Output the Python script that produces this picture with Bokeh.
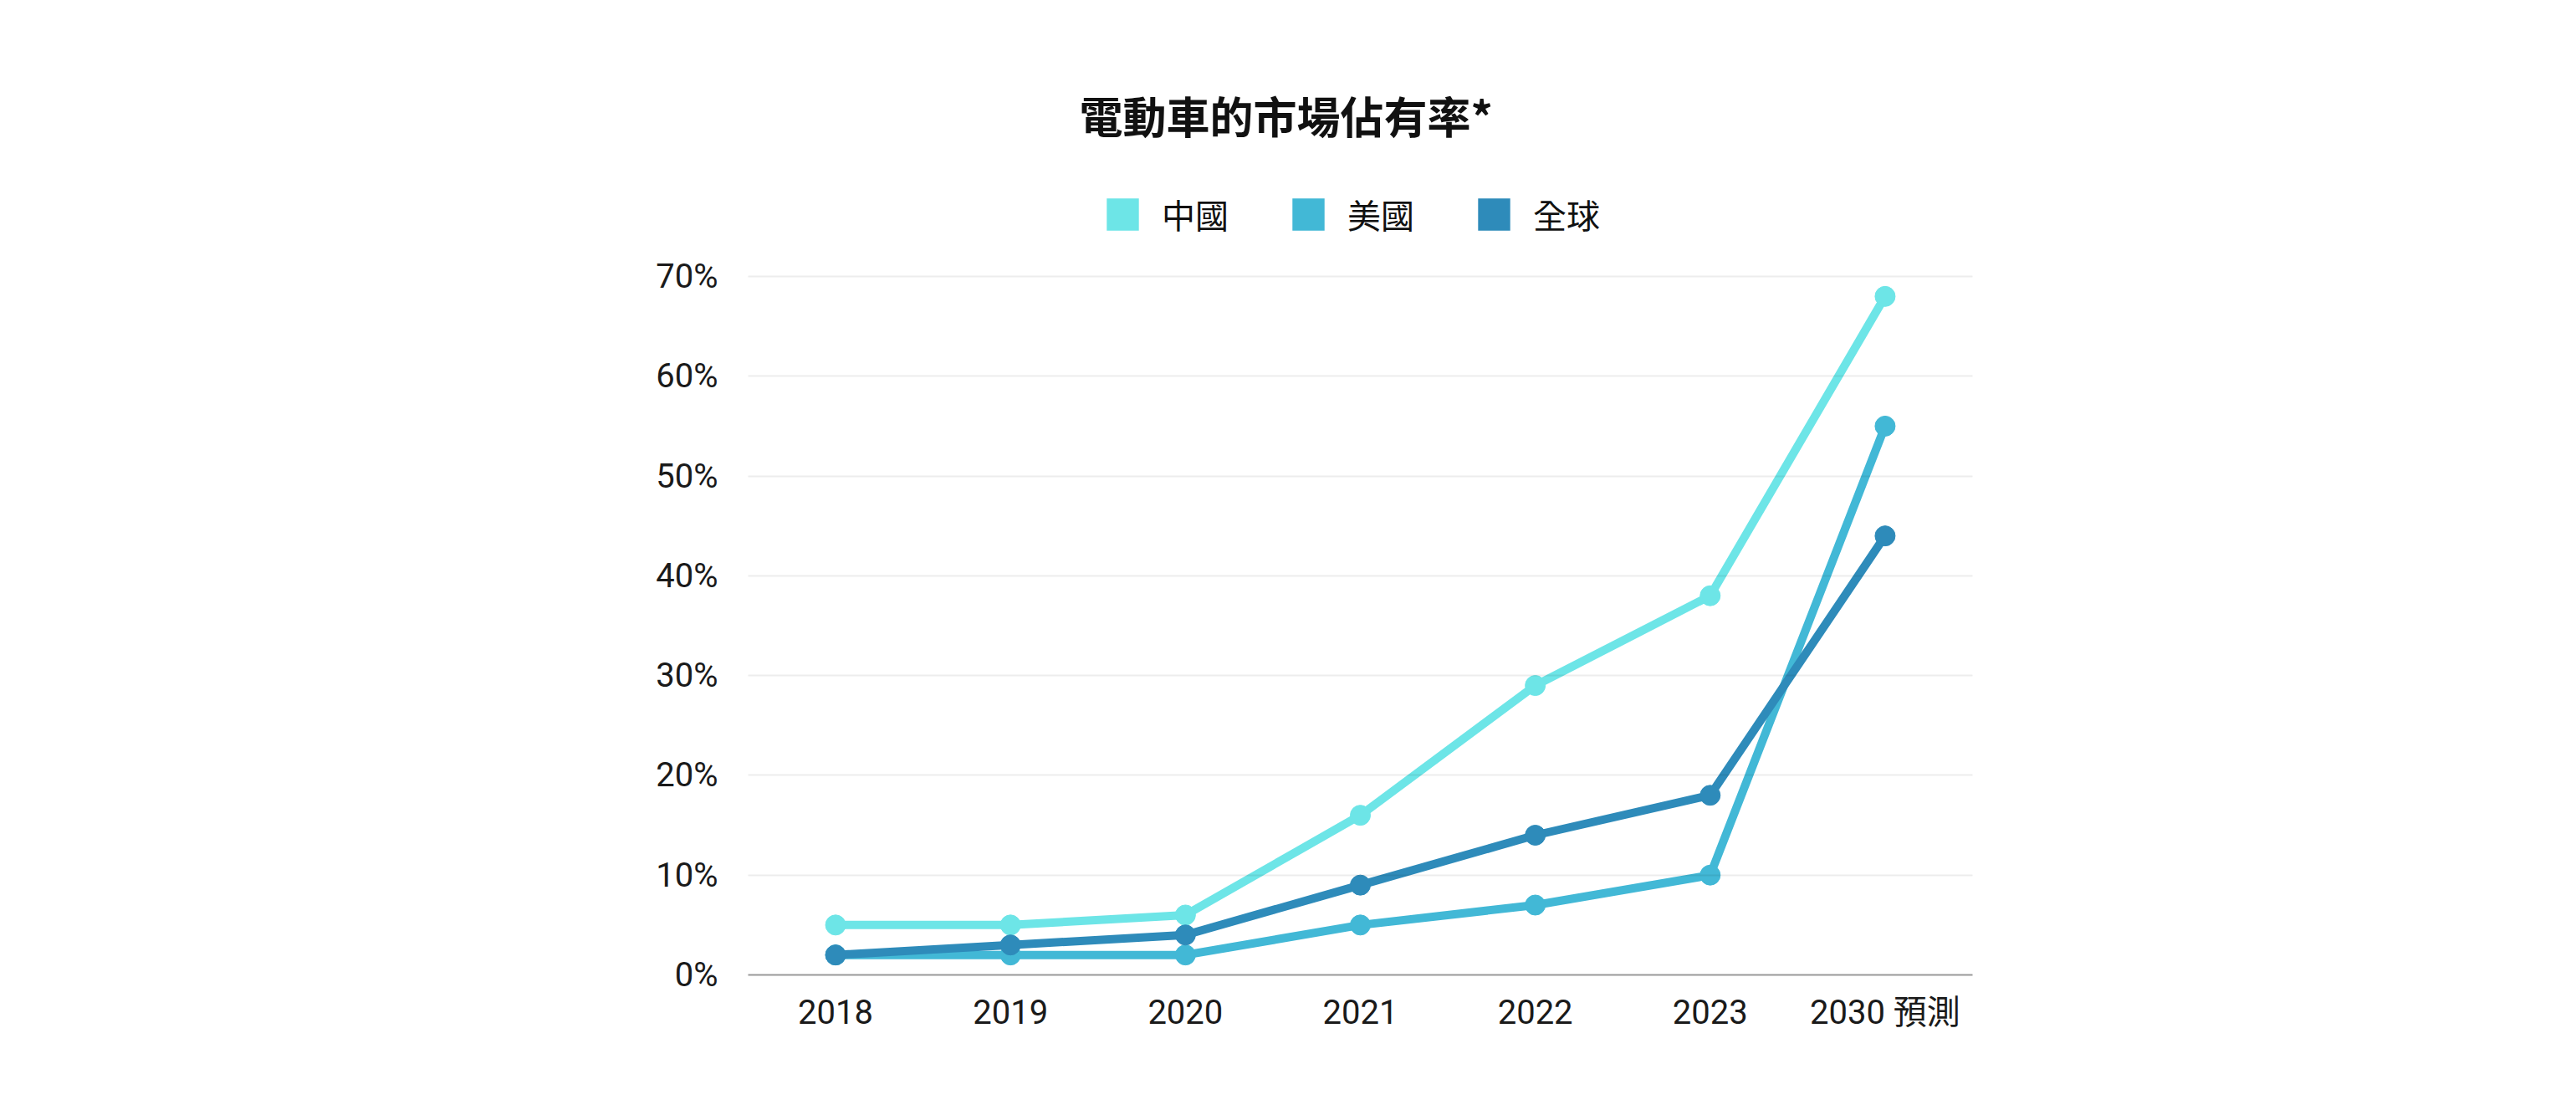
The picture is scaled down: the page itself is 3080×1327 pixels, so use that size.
from bokeh.plotting import figure
from bokeh.models import (FactorRange, Range1d, FixedTicker, PrintfTickFormatter,
                          Legend, LegendItem, ColumnDataSource)
from bokeh.embed import file_html
from bokeh.resources import INLINE

# ---- data ----
categories = ["2018", "2019", "2020", "2021", "2022", "2023", "2030 預測"]
china = [5, 5, 6, 16, 29, 38, 68]
usa = [2, 2, 2, 5, 7, 10, 55]
world = [2, 3, 4, 9, 14, 18, 44]
series_names = ["中國", "美國", "全球"]
y_ticks = [0, 10, 20, 30, 40, 50, 60, 70]
title_text = "電動車的市場佔有率*"

colors = ["#6de5e7", "#42b8d6", "#2e8bba"]
LATIN = "Roboto, 'Noto Sans CJK TC'"
CJK = "'Noto Sans CJK TC'"

# layout (pixels): data area 0..70 spans 835 px; the frame extends 130 px
# higher to hold the legend row
PX_PER_UNIT = 835 / 70
FRAME_H = 965
y_top = FRAME_H / PX_PER_UNIT

p = figure(frame_width=1464, frame_height=FRAME_H,
           x_range=FactorRange(*categories),
           y_range=Range1d(0, y_top),
           output_backend="svg", toolbar_location=None,
           min_border_left=894, min_border_right=714,
           min_border_top=200, min_border_bottom=154)
p.outline_line_color = None
p.background_fill_color = "white"
p.border_fill_color = "white"

# title
p.title.text = title_text
p.title.text_font = CJK
p.title.text_font_style = "bold"
p.title.text_font_size = "52px"
p.title.text_color = "#111111"
p.title.align = "left"
p.title.offset = 396
p.title.standoff = 51

# lines + markers
all_series = [china, usa, world]
items = []
for name, vals, col in zip(series_names, all_series, colors):
    src = ColumnDataSource(dict(x=categories, y=vals))
    # zero-size bars: only used to give the legend a filled square swatch
    sw = p.vbar(x="x", top="y", bottom="y", width=0, source=src,
                fill_color=col, line_color=None)
    items.append(LegendItem(label=name, renderers=[sw]))
for name, vals, col in zip(series_names, all_series, colors):
    src = ColumnDataSource(dict(x=categories, y=vals))
    p.line("x", "y", source=src, line_color=col, line_width=10, line_join="round")
    p.scatter("x", "y", source=src, size=24, fill_color=col, line_color=col)

legend = Legend(items=items, orientation="horizontal", location=(424, 880),
                glyph_width=48, glyph_height=48, label_standoff=23, spacing=71,
                label_text_font=CJK, label_text_font_size="40px",
                label_text_color="#111111", border_line_color=None,
                background_fill_alpha=0, padding=0, margin=0)
p.add_layout(legend, "center")

# axes
p.yaxis.ticker = FixedTicker(ticks=y_ticks)
p.yaxis.formatter = PrintfTickFormatter(format="%d%%")
p.yaxis.axis_line_color = None
p.yaxis.major_tick_line_color = None
p.yaxis.minor_tick_line_color = None
p.yaxis.major_label_text_font = LATIN
p.yaxis.major_label_text_font_size = "40px"
p.yaxis.major_label_text_color = "#1a1a1a"
p.yaxis.major_label_standoff = 30

p.xaxis.axis_line_color = "#999999"
p.xaxis.axis_line_width = 2
p.xaxis.major_tick_line_color = None
p.xaxis.minor_tick_line_color = None
p.xaxis.major_label_text_font = LATIN
p.xaxis.major_label_text_font_size = "40px"
p.xaxis.major_label_text_color = "#1a1a1a"
p.xaxis.major_label_standoff = 15

p.xgrid.grid_line_color = None
p.ygrid.grid_line_color = "black"
p.ygrid.grid_line_alpha = 0.07
p.ygrid.grid_line_width = 2
p.ygrid.level = "guide"

open("out.html", "w").write(file_html(p, INLINE))
